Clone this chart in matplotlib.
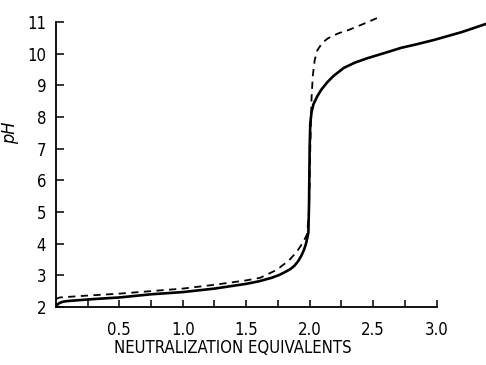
import matplotlib
matplotlib.use("Agg")
import matplotlib.pyplot as plt
from matplotlib.ticker import FixedLocator

# Data
solid_x = [0, 0.01, 0.03, 0.06, 0.1, 0.3, 0.5, 0.75, 1.0, 1.25, 1.5, 1.6, 1.7, 1.76, 1.81,
           1.85, 1.88, 1.91, 1.935, 1.955, 1.97, 1.98, 1.99, 1.995, 2.0, 2.005, 2.015, 2.03,
           2.06, 2.09, 2.14, 2.19, 2.27, 2.36, 2.46, 2.6, 2.72, 2.85, 2.98, 3.2, 3.4]
solid_y = [2.0, 2.07, 2.13, 2.17, 2.19, 2.25, 2.3, 2.4, 2.47, 2.58, 2.73, 2.81, 2.92, 3.01, 3.11,
           3.2, 3.3, 3.45, 3.62, 3.8, 3.98, 4.15, 4.35, 5.2, 7.0, 7.8, 8.15, 8.4,
           8.65, 8.85, 9.1, 9.3, 9.55, 9.72, 9.86, 10.03, 10.18, 10.3, 10.43, 10.68, 10.95]

dash_x = [0, 0.03, 0.25, 0.5, 0.75, 1.0, 1.25, 1.5, 1.61, 1.74, 1.84, 1.9, 1.95, 1.98, 1.995,
          2.005, 2.015, 2.025, 2.04, 2.06, 2.1, 2.14, 2.18, 2.24, 2.31, 2.42, 2.53]
dash_y = [2.25, 2.3, 2.36, 2.42, 2.5, 2.58, 2.7, 2.84, 2.92, 3.17, 3.48, 3.75, 4.05, 4.3, 5.0,
          7.0, 8.6, 9.3, 9.8, 10.1, 10.34, 10.47, 10.56, 10.66, 10.75, 10.93, 11.12]

x_ticks = [0.5, 1.0, 1.5, 2.0, 2.5, 3.0]
x_ticklabels = ["0.5", "1.0", "1.5", "2.0", "2.5", "3.0"]
x_minor = [0.25, 0.75, 1.25, 1.75, 2.25, 2.75]
y_ticks = [2, 3, 4, 5, 6, 7, 8, 9, 10, 11]

plt.rcParams['font.family'] = ['DejaVu Sans']
plt.rcParams['font.stretch'] = 'condensed'

fig = plt.figure(figsize=(4.86, 3.65), dpi=100)
ax = fig.add_axes([0.115, 0.159, 0.885, 0.807])

ax.plot(solid_x, solid_y, color='black', lw=1.9, solid_joinstyle='round')
ax.plot(dash_x, dash_y, color='black', lw=1.3, dashes=(4, 3))

ax.set_xlim(0, 3.39)
ax.set_ylim(2, 11.3)

for s in ['top', 'right']:
    ax.spines[s].set_visible(False)
ax.spines['left'].set_bounds(2, 11)
ax.spines['bottom'].set_bounds(0, 3.0)
ax.spines['left'].set_linewidth(1.3)
ax.spines['bottom'].set_linewidth(1.3)

ax.xaxis.set_major_locator(FixedLocator(x_ticks))
ax.set_xticklabels(x_ticklabels)
ax.xaxis.set_minor_locator(FixedLocator(x_minor))
ax.yaxis.set_major_locator(FixedLocator(y_ticks))
ax.tick_params(axis='x', which='both', direction='in', length=5, width=1.1, pad=10,
               labelsize=12)
ax.tick_params(axis='y', which='both', direction='in', length=6, width=1.1, pad=7,
               labelsize=12)

ax.set_xlabel("NEUTRALIZATION EQUIVALENTS", fontsize=12)
ax.xaxis.label.set_position(((233 - 56) / (486 - 56), 0))
ax.xaxis.labelpad = 0
ax.set_ylabel("pH", fontsize=13, style='italic')
ax.yaxis.set_label_coords(-0.085, (7.5 - 2) / 9.3)

fig.savefig("out.png", dpi=100)
